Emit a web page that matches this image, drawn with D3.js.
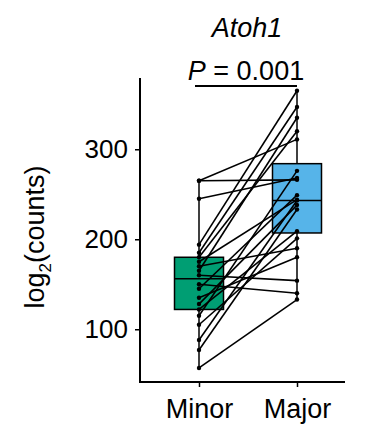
<!DOCTYPE html>
<html>
<head>
<meta charset="utf-8">
<script src="https://cdn.jsdelivr.net/npm/d3@7/dist/d3.min.js"></script>
<style>
  html, body { margin: 0; padding: 0; background: #fff; }
  svg { display: block; font-family: "Liberation Sans", Arial, Helvetica, sans-serif; }
</style>
</head>
<body>
<svg id="chart" width="370" height="439"></svg>
<script>
// ---- data ----
const categories = ["Minor", "Major"];
const minorValues = [57, 77, 88, 105, 115, 122, 128, 135, 145, 150, 160, 165, 170, 175, 180, 185, 194, 245, 265, 265];
const majorValues = [133, 233, 243, 201, 276, 209, 238, 180, 249, 140, 154, 335, 190, 244, 320, 347, 365, 268, 311, 266];
const boxQ1 = [122, 207];
const boxMedian = [156, 243];
const boxQ3 = [180, 284];
const boxColors = ["#009E73", "#56B4E9"];
const yTicks = [100, 200, 300];
const geneTitle = "Atoh1";
const pLabel = "0.001";

// ---- layout ----
const svg = d3.select("#chart");
const axisLeftX = 140, axisBottomY = 382, axisRightX = 345;
const y = d3.scaleLinear().domain([41.4, 379.2]).range([382, 78]);
const x = d3.scalePoint().domain(categories).range([199, 297]).padding(0);
const boxW = 49;
const FONT = "'Liberation Sans', Arial, sans-serif";

const pairs = minorValues.map((m, i) => [m, majorValues[i]]);
const g = svg.append("g");
const groups = [minorValues, majorValues];

// whiskers
groups.forEach((vals, i) => {
  g.append("line")
    .attr("x1", x(categories[i])).attr("x2", x(categories[i]))
    .attr("y1", y(d3.min(vals))).attr("y2", y(d3.max(vals)))
    .attr("stroke", "#000").attr("stroke-width", 1.5);
});

// boxes
categories.forEach((c, i) => {
  g.append("rect")
    .attr("x", x(c) - boxW / 2).attr("width", boxW)
    .attr("y", y(boxQ3[i])).attr("height", y(boxQ1[i]) - y(boxQ3[i]))
    .attr("fill", boxColors[i]).attr("stroke", "#000").attr("stroke-width", 1.5);
  g.append("line")
    .attr("x1", x(c) - boxW / 2).attr("x2", x(c) + boxW / 2)
    .attr("y1", y(boxMedian[i])).attr("y2", y(boxMedian[i]))
    .attr("stroke", "#000").attr("stroke-width", 1.5);
});

// paired lines
g.selectAll(".pair").data(pairs).enter().append("line")
  .attr("x1", x("Minor")).attr("y1", d => y(d[0]))
  .attr("x2", x("Major")).attr("y2", d => y(d[1]))
  .attr("stroke", "#000").attr("stroke-width", 1.6);

// points
groups.forEach((vals, i) => {
  g.selectAll(".pt" + i).data(vals).enter().append("circle")
    .attr("cx", x(categories[i])).attr("cy", d => y(d))
    .attr("r", 2.2).attr("fill", "#000");
});

// axes
const yAxis = d3.axisLeft(y).tickValues(yTicks).tickSize(5).tickSizeOuter(0).tickPadding(7);
const ya = svg.append("g").attr("transform", `translate(${axisLeftX},0)`).call(yAxis);
ya.select(".domain").remove();
ya.selectAll(".tick line").attr("stroke", "#000").attr("stroke-width", 1.5);
ya.selectAll(".tick text").attr("font-size", 26).attr("fill", "#000").attr("font-family", FONT);

const xAxis = d3.axisBottom(x).tickSize(5).tickSizeOuter(0).tickPadding(12);
const xa = svg.append("g").attr("transform", `translate(0,${axisBottomY})`).call(xAxis);
xa.select(".domain").remove();
xa.selectAll(".tick line").attr("stroke", "#000").attr("stroke-width", 1.5);
xa.selectAll(".tick text").attr("font-size", 27).attr("fill", "#000").attr("font-family", FONT);

svg.append("path")
  .attr("d", `M${axisLeftX},${y.range()[1]}V${axisBottomY}H${axisRightX}`)
  .attr("fill", "none").attr("stroke", "#000").attr("stroke-width", 2);

// y label
svg.append("text")
  .attr("transform", `translate(44,237) rotate(-90)`)
  .attr("text-anchor", "middle").attr("font-size", 27).attr("fill", "#000")
  .call(t => {
    t.append("tspan").text("log");
    t.append("tspan").text("2").attr("font-size", 17).attr("dy", 7);
    t.append("tspan").text("(counts)").attr("dy", -7);
  });

// title
svg.append("text").attr("x", 247).attr("y", 37).attr("text-anchor", "middle")
  .attr("font-size", 27).attr("font-style", "italic").attr("fill", "#000").text(geneTitle);

svg.append("text").attr("x", 246).attr("y", 80).attr("text-anchor", "middle")
  .attr("font-size", 27).attr("fill", "#000")
  .call(t => {
    t.append("tspan").attr("font-style", "italic").text("P");
    t.append("tspan").text(" = " + pLabel);
  });

svg.append("line").attr("x1", x("Minor") - 4).attr("x2", x("Major"))
  .attr("y1", 86).attr("y2", 86).attr("stroke", "#000").attr("stroke-width", 2);
</script>
</body>
</html>
